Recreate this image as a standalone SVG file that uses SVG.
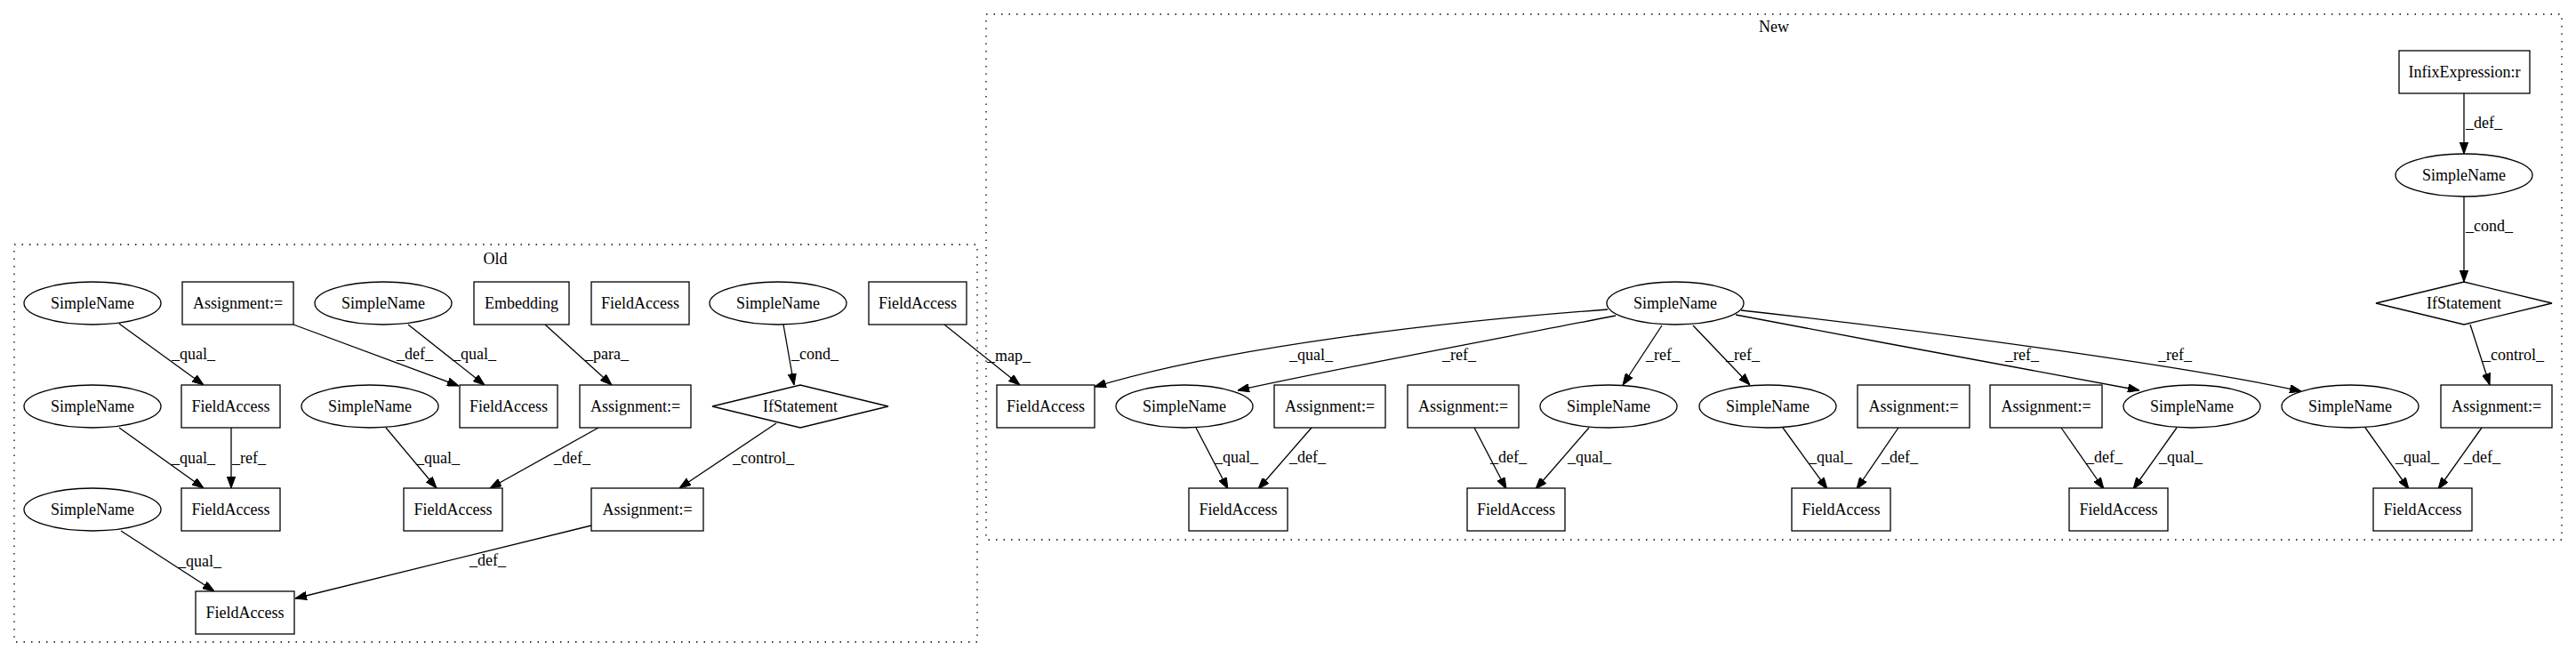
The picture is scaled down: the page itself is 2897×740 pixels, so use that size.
<svg xmlns="http://www.w3.org/2000/svg" width="2897" height="740" viewBox="0 0 2897 740">
<style>
text{font-family:"Liberation Serif","Times New Roman",serif;font-size:18px;fill:#000}
.n text{text-anchor:middle}
.n rect,.n ellipse,.n polygon{fill:#fff;stroke:#000;stroke-width:1.3}
.cl{fill:none;stroke:#000;stroke-width:1.3;stroke-dasharray:1.5,7}
.e path{fill:none;stroke:#000;stroke-width:1.3;marker-end:url(#ah)}
</style>
<defs>
<marker id="ah" viewBox="0 0 13 9.4" refX="13" refY="4.7" markerWidth="13" markerHeight="9.4" orient="auto" markerUnits="userSpaceOnUse"><path d="M0,0 L13,4.7 L0,9.4 z" fill="#000" stroke="#000" stroke-width="1"/></marker>
</defs>
<rect width="2897" height="740" fill="#fff"/>
<g id="cluster_old"><rect class="cl" x="16" y="275" width="1083" height="447"/><text x="557" y="297" text-anchor="middle">Old</text></g>
<g id="cluster_new"><rect class="cl" x="1109" y="16" width="1772" height="591"/><text x="1995" y="36" text-anchor="middle">New</text></g>

<g id="connectors" class="e">
<path d="M134,364 L229,433"/><text x="193" y="404">_qual_</text>
<path d="M330,365 L516,434"/><text x="446" y="404">_def_</text>
<path d="M459,365 L545,433"/><text x="509" y="404">_qual_</text>
<path d="M613,365 L688,433"/><text x="658" y="404">_para_</text>
<path d="M881,365 L893,433"/><text x="890" y="404">_cond_</text>
<path d="M1062,365 L1147,433"/><text x="1110" y="406">_map_</text>
<path d="M134,481 L229,549"/><text x="193" y="521">_qual_</text>
<path d="M260,481 L260,549"/><text x="261" y="521">_ref_</text>
<path d="M434,481 L491,549"/><text x="468" y="521">_qual_</text>
<path d="M673,481 L551,549"/><text x="623" y="521">_def_</text>
<path d="M873,476 L764,549"/><text x="824" y="521">_control_</text>
<path d="M136,597 L241,665"/><text x="200" y="637">_qual_</text>
<path d="M665,591 L332,673"/><text x="528" y="636">_def_</text>

<path d="M1808,348 C1620,362 1380,390 1231,435"/><text x="1450" y="405">_qual_</text>
<path d="M1817,355 C1700,378 1500,415 1392,439"/><text x="1622" y="405">_ref_</text>
<path d="M1869,366 L1825,433"/><text x="1851" y="405">_ref_</text>
<path d="M1904,366 L1968,433"/><text x="1941" y="405">_ref_</text>
<path d="M1952,354 C2100,383 2300,418 2406,439"/><text x="2255" y="405">_ref_</text>
<path d="M1958,349 C2150,370 2450,410 2588,440"/><text x="2427" y="405">_ref_</text>
<path d="M1345,481 L1381,550"/><text x="1366" y="520">_qual_</text>
<path d="M1475,481 L1415,550"/><text x="1450" y="520">_def_</text>
<path d="M1658,481 L1694,550"/><text x="1676" y="520">_def_</text>
<path d="M1787,481 L1727,550"/><text x="1763" y="520">_qual_</text>
<path d="M2005,481 L2055,550"/><text x="2034" y="520">_qual_</text>
<path d="M2135,481 L2088,550"/><text x="2116" y="520">_def_</text>
<path d="M2318,481 L2366,550"/><text x="2346" y="520">_def_</text>
<path d="M2448,481 L2399,550"/><text x="2428" y="520">_qual_</text>
<path d="M2660,481 L2709,550"/><text x="2694" y="520">_qual_</text>
<path d="M2791,481 L2742,550"/><text x="2771" y="520">_def_</text>
<path d="M2771,105 L2771,173"/><text x="2773" y="144">_def_</text>
<path d="M2771,221 L2771,317"/><text x="2773" y="260">_cond_</text>
<path d="M2778,365 L2800,433"/><text x="2792" y="405">_control_</text>
</g>

<g id="o_sn1" class="n"><ellipse cx="104" cy="341" rx="77" ry="24"/><text x="104" y="347">SimpleName</text></g>
<g id="o_asg1" class="n"><rect x="205" y="317" width="125" height="48"/><text x="267.5" y="347">Assignment:=</text></g>
<g id="o_sn2" class="n"><ellipse cx="431" cy="341" rx="77" ry="24"/><text x="431" y="347">SimpleName</text></g>
<g id="o_emb" class="n"><rect x="533" y="317" width="107" height="48"/><text x="586.5" y="347">Embedding</text></g>
<g id="o_fa0" class="n"><rect x="665" y="317" width="110" height="48"/><text x="720" y="347">FieldAccess</text></g>
<g id="o_sn3" class="n"><ellipse cx="875" cy="341" rx="77" ry="24"/><text x="875" y="347">SimpleName</text></g>
<g id="o_fa1" class="n"><rect x="977" y="317" width="110" height="48"/><text x="1032" y="347">FieldAccess</text></g>

<g id="o_sn4" class="n"><ellipse cx="104" cy="457" rx="77" ry="24"/><text x="104" y="463">SimpleName</text></g>
<g id="o_fa2" class="n"><rect x="204" y="433" width="111" height="48"/><text x="259.5" y="463">FieldAccess</text></g>
<g id="o_sn5" class="n"><ellipse cx="416" cy="457" rx="77" ry="24"/><text x="416" y="463">SimpleName</text></g>
<g id="o_fa3" class="n"><rect x="517" y="433" width="110" height="48"/><text x="572" y="463">FieldAccess</text></g>
<g id="o_asg2" class="n"><rect x="652" y="433" width="125" height="48"/><text x="714.5" y="463">Assignment:=</text></g>
<g id="o_if" class="n"><polygon points="801,457 900,433 999,457 900,481"/><text x="900" y="463">IfStatement</text></g>

<g id="o_sn6" class="n"><ellipse cx="104" cy="573" rx="77" ry="24"/><text x="104" y="579">SimpleName</text></g>
<g id="o_fa4" class="n"><rect x="204" y="549" width="111" height="48"/><text x="259.5" y="579">FieldAccess</text></g>
<g id="o_fa5" class="n"><rect x="454" y="549" width="111" height="48"/><text x="509.5" y="579">FieldAccess</text></g>
<g id="o_asg3" class="n"><rect x="665" y="549" width="126" height="48"/><text x="728" y="579">Assignment:=</text></g>
<g id="o_fa6" class="n"><rect x="220" y="665" width="111" height="48"/><text x="275.5" y="695">FieldAccess</text></g>

<g id="n_infix" class="n"><rect x="2698" y="57" width="147" height="48"/><text x="2771.5" y="87">InfixExpression:r</text></g>
<g id="n_sn0" class="n"><ellipse cx="2771" cy="197" rx="77" ry="24"/><text x="2771" y="203">SimpleName</text></g>
<g id="n_if" class="n"><polygon points="2672,341 2771,317 2870,341 2771,365"/><text x="2771" y="347">IfStatement</text></g>
<g id="n_hub" class="n"><ellipse cx="1884" cy="341" rx="77" ry="24"/><text x="1884" y="347">SimpleName</text></g>

<g id="n_fa0" class="n"><rect x="1121" y="433" width="110" height="48"/><text x="1176" y="463">FieldAccess</text></g>
<g id="n_sn1" class="n"><ellipse cx="1332" cy="457" rx="77" ry="24"/><text x="1332" y="463">SimpleName</text></g>
<g id="n_asg1" class="n"><rect x="1433" y="433" width="125" height="48"/><text x="1495.5" y="463">Assignment:=</text></g>
<g id="n_asg2" class="n"><rect x="1583" y="433" width="125" height="48"/><text x="1645.5" y="463">Assignment:=</text></g>
<g id="n_sn2" class="n"><ellipse cx="1809" cy="457" rx="77" ry="24"/><text x="1809" y="463">SimpleName</text></g>
<g id="n_sn3" class="n"><ellipse cx="1988" cy="457" rx="77" ry="24"/><text x="1988" y="463">SimpleName</text></g>
<g id="n_asg3" class="n"><rect x="2089" y="433" width="126" height="48"/><text x="2152" y="463">Assignment:=</text></g>
<g id="n_asg4" class="n"><rect x="2238" y="433" width="126" height="48"/><text x="2301" y="463">Assignment:=</text></g>
<g id="n_sn4" class="n"><ellipse cx="2465" cy="457" rx="77" ry="24"/><text x="2465" y="463">SimpleName</text></g>
<g id="n_sn5" class="n"><ellipse cx="2643" cy="457" rx="77" ry="24"/><text x="2643" y="463">SimpleName</text></g>
<g id="n_asg5" class="n"><rect x="2745" y="433" width="125" height="48"/><text x="2807.5" y="463">Assignment:=</text></g>

<g id="n_fa1" class="n"><rect x="1337" y="549" width="111" height="48"/><text x="1392.5" y="579">FieldAccess</text></g>
<g id="n_fa2" class="n"><rect x="1650" y="549" width="110" height="48"/><text x="1705" y="579">FieldAccess</text></g>
<g id="n_fa3" class="n"><rect x="2015" y="549" width="111" height="48"/><text x="2070.5" y="579">FieldAccess</text></g>
<g id="n_fa4" class="n"><rect x="2327" y="549" width="111" height="48"/><text x="2382.5" y="579">FieldAccess</text></g>
<g id="n_fa5" class="n"><rect x="2669" y="549" width="111" height="48"/><text x="2724.5" y="579">FieldAccess</text></g>
</svg>
